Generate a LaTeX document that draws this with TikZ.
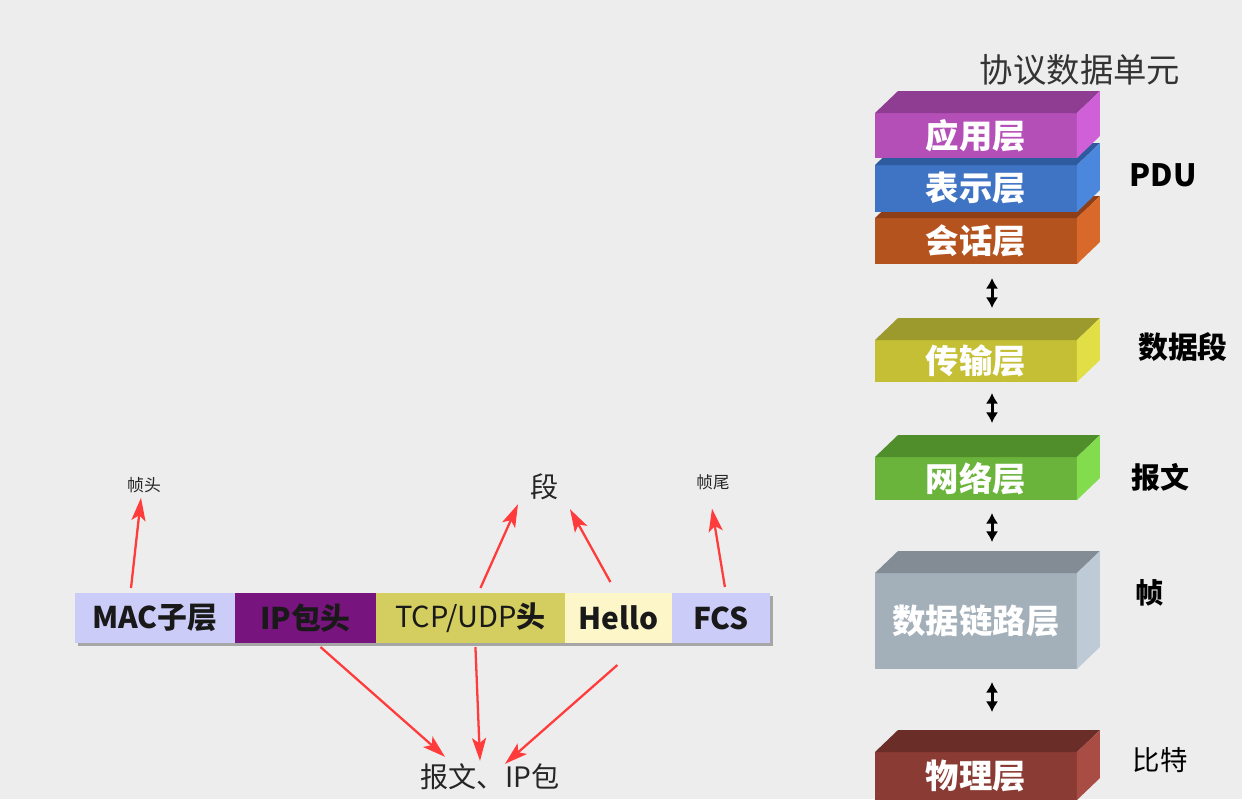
\documentclass[tikz,border=0pt]{standalone}
\usepackage{fontspec}
\setmainfont{Noto Sans CJK SC}
\usetikzlibrary{arrows.meta,positioning,calc,backgrounds}

\definecolor{bggray}{HTML}{EDEDED}
\definecolor{redarrow}{HTML}{FF3B3B}
\definecolor{maccol}{HTML}{CCCCF8}
\definecolor{ipcol}{HTML}{78147D}
\definecolor{tcpcol}{HTML}{D4CD5F}
\definecolor{hellocol}{HTML}{FDF6C8}
% layer colours: front, top, side
\definecolor{sesF}{HTML}{B5531F}\definecolor{sesT}{HTML}{8E3F17}\definecolor{sesS}{HTML}{D9692B}
\definecolor{presF}{HTML}{3F73C4}\definecolor{presT}{HTML}{2E5A9E}\definecolor{presS}{HTML}{4A87DD}
\definecolor{appF}{HTML}{B44FB8}\definecolor{appT}{HTML}{8E3D92}\definecolor{appS}{HTML}{D060D8}
\definecolor{transF}{HTML}{C4BF34}\definecolor{transT}{HTML}{9C9A2C}\definecolor{transS}{HTML}{E2DE45}
\definecolor{netF}{HTML}{6BB43C}\definecolor{netT}{HTML}{4F8E2B}\definecolor{netS}{HTML}{82DC4D}
\definecolor{dllF}{HTML}{A3AFB9}\definecolor{dllT}{HTML}{838C95}\definecolor{dllS}{HTML}{BECBD7}
\definecolor{phyF}{HTML}{8A3B34}\definecolor{phyT}{HTML}{6A2D28}\definecolor{phyS}{HTML}{A84C44}

\newcommand\layerbox[4]{%
  \node[layer,fill=#1F,minimum height=#3] (#1) at (#2) {#4};
  \fill[#1T] (#1.north west) -- ++(23,-22) -- ++(202,0) -- (#1.north east) -- cycle;
  \fill[#1S] (#1.north east) -- ++(23,-22) -- ($(#1.south east)+(23,-22)$) -- (#1.south east) -- cycle;}

\begin{document}
\begin{tikzpicture}[x=0.02cm,y=-0.02cm,
  layer/.style={minimum width=4.04cm,inner sep=0,outer sep=0,text=white,
    font=\fontsize{19}{19}\selectfont\bfseries},
  pkt/.style={minimum height=1cm,inner sep=0,outer sep=0,text=black!90,
    font=\fontsize{17}{17}\selectfont\bfseries},
  lbl/.style={text=black!85,inner sep=1pt},
  redarr/.style={draw=redarrow,line width=1.3pt,-{Stealth[length=13pt,width=8pt,inset=3pt]}},
  dblarr/.style={line width=1.7pt,{Latex[length=6pt,width=7pt]}-{Latex[length=6pt,width=7pt]}}]
  \useasboundingbox (0,0) rectangle (1242,799);

  % frame
  \node[pkt,fill=maccol,minimum width=3.2cm] (mac) at (155,618) {MAC子层};
  \node[pkt,fill=ipcol,minimum width=2.82cm,right=0pt of mac] (ip) {IP包头};
  \node[pkt,fill=tcpcol,minimum width=3.78cm,right=0pt of ip,
    font=\fontsize{16.5}{17}\selectfont] (tcp) {TCP/UDP\textbf{头}};
  \node[pkt,fill=hellocol,minimum width=2.14cm,right=0pt of tcp] (hello) {Hello};
  \node[pkt,fill=maccol,minimum width=1.96cm,right=0pt of hello] (fcs) {FCS};
  \begin{scope}[on background layer]
    \fill[bggray] (0,0) rectangle (1242,799);
    \fill[black!35] ($(mac.north west)+(3,3)$) rectangle ($(fcs.south east)+(3,3)$);
  \end{scope}

  \node[lbl,font=\fontsize{9.6}{10}\selectfont] (zhentou) at (144,485) {帧头};
  \node[lbl,font=\fontsize{16}{16}\selectfont] (duan) at (545,487) {段};
  \node[lbl,font=\fontsize{9.4}{10}\selectfont] (zhenwei) at (713,482) {帧尾};
  \node[lbl,font=\fontsize{16}{16}\selectfont] (baowen) at (490,777) {报文、IP包};

  \draw[redarr] ($(mac.north)+(-24,-5)$) -- ($(zhentou.south)+(-3,3)$);
  \draw[redarr] ($(tcp.north)+(10,-5)$) -- ($(duan.south)+(-27,2)$);
  \draw[redarr] ($(hello.north)+(-8,-11)$) -- ($(duan.south)+(25,7)$);
  \draw[redarr] ($(fcs.north)+(4,-6)$) -- ($(zhenwei.south)+(-1,17)$);
  \draw[redarr] ($(ip.south)+(15,4)$) -- ($(baowen.north)+(-45,-5)$);
  \draw[redarr] ($(tcp.south)+(5,4)$) -- ($(baowen.north)+(-10,-1)$);
  \draw[redarr] ($(hello.south)+(-1,22)$) -- ($(baowen.north)+(15,2)$);

  % OSI layers
  \node[font=\fontsize{19}{19}\selectfont,text=black!80] (pdutitle) at (1080,70) {协议数据单元};
  \layerbox{ses}{976,241}{0.92cm}{会话层}
  \layerbox{pres}{976,188.5}{0.94cm}{表示层}
  \layerbox{app}{976,135.5}{0.9cm}{应用层}
  \layerbox{trans}{976,361}{0.84cm}{传输层}
  \layerbox{net}{976,478.5}{0.86cm}{网络层}
  \layerbox{dll}{976,621}{1.92cm}{数据链路层}
  \layerbox{phy}{976,776}{0.96cm}{物理层}

  \draw[dblarr] ($(ses.south)+(16,14)$) -- ($(trans.north)+(16,-32)$);
  \draw[dblarr] ($(trans.south)+(16,11)$) -- ($(net.north)+(16,-34)$);
  \draw[dblarr] ($(net.south)+(16,13)$) -- ($(dll.north)+(16,-31)$);
  \draw[dblarr] ($(dll.south)+(16,13)$) -- ($(phy.north)+(16,-40)$);

  \node[font=\fontsize{17.5}{18}\selectfont\bfseries] (pdu) at (1163,175) {PDU};
  \node[font=\fontsize{17}{17}\selectfont\bfseries] (seg) at (1183,347) {数据段};
  \node[font=\fontsize{16.5}{17}\selectfont\bfseries] (pkg) at (1160,477) {报文};
  \node[font=\fontsize{16}{16}\selectfont\bfseries] (frame) at (1150,593) {帧};
  \node[font=\fontsize{15.6}{16}\selectfont] (bits) at (1160,760) {比特};
\end{tikzpicture}
\end{document}
